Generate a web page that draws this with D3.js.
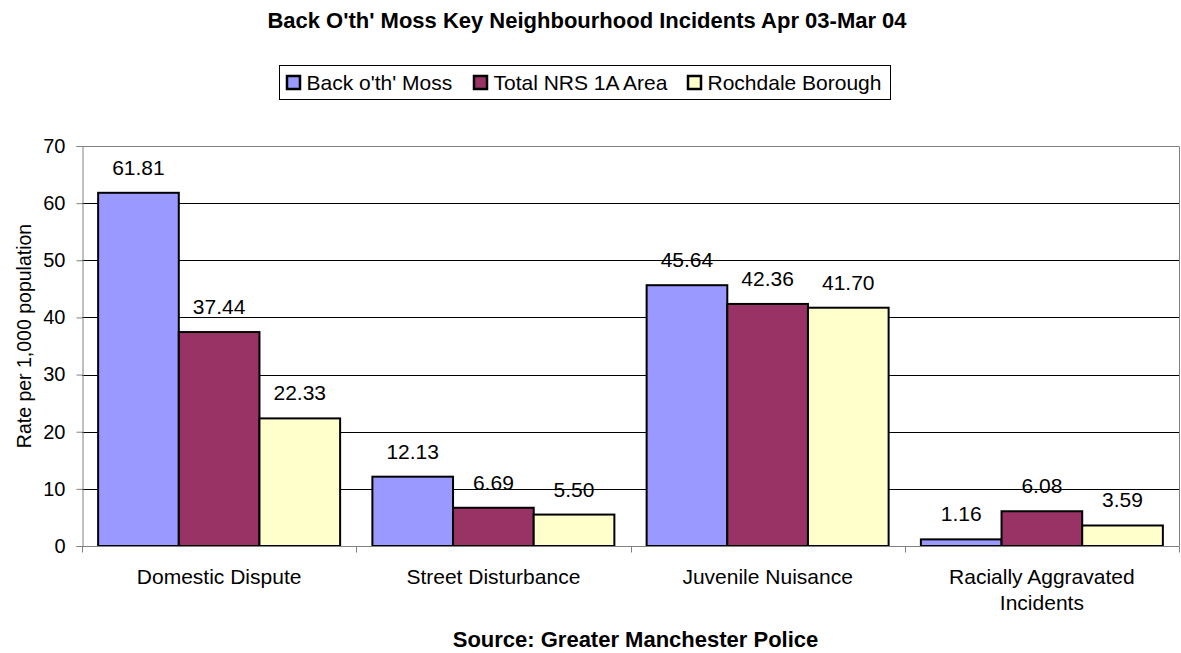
<!DOCTYPE html>
<html><head><meta charset="utf-8">
<script src="https://cdn.jsdelivr.net/npm/d3@7"></script>
<style>
html,body{margin:0;padding:0;background:#fff;}
svg{display:block;font-family:"Liberation Sans",Arial,sans-serif;}
</style></head>
<body><svg id="c" width="1181" height="653"></svg>
<script>
const categories = [["Domestic Dispute"],["Street Disturbance"],["Juvenile Nuisance"],["Racially Aggravated","Incidents"]];
const seriesNames = ["Back o'th' Moss","Total NRS 1A Area","Rochdale Borough"];
const backOthMoss = [61.81, 12.13, 45.64, 1.16];
const totalNRS1A = [37.44, 6.69, 42.36, 6.08];
const rochdaleBorough = [22.33, 5.50, 41.70, 3.59];
const yTicks = [0,10,20,30,40,50,60,70];
const colors = ["#9999FF","#993366","#FFFFCC"];

const seriesValues = [backOthMoss, totalNRS1A, rochdaleBorough];
const svg = d3.select("#c");
const L = 82, R = 1179, T = 146, B = 546;
const FS = 21;

const x0 = d3.scaleBand().domain(d3.range(categories.length)).range([L, R]).padding(0);
const x1 = d3.scaleBand().domain(d3.range(seriesNames.length)).range([0, x0.bandwidth()]).paddingInner(0).paddingOuter(0.2);
const y = d3.scaleLinear().domain([0,70]).range([B, T]);

// gridlines
svg.append("g").selectAll("line").data(yTicks.filter(d=>d>0 && d<70)).join("line")
  .attr("x1", L).attr("x2", R).attr("y1", d=>Math.round(y(d))+0.5).attr("y2", d=>Math.round(y(d))+0.5)
  .attr("stroke","#000").attr("stroke-width",1);
// frame top/right
svg.append("path").attr("d",`M${L},${T+0.5}H${R+0.5}V${B}`).attr("fill","none").attr("stroke","#808080").attr("stroke-width",1);

// y axis
const ya = svg.append("g").attr("transform",`translate(${L+0.5},0)`)
  .call(d3.axisLeft(y).tickValues(yTicks).tickSize(6).tickPadding(11).tickFormat(d3.format("d")));
ya.select(".domain").attr("stroke","#808080");
ya.selectAll(".tick line").attr("stroke","#808080");
ya.selectAll("text").attr("font-size",20).attr("font-family","Liberation Sans, Arial, sans-serif").attr("fill","#000");

// bars
const g = svg.append("g");
categories.forEach((c,ci)=>{
  seriesValues.forEach((vals,si)=>{
    const v = vals[ci];
    const bx = x0(ci) + x1(si);
    g.append("rect").attr("x", bx).attr("y", y(v)).attr("width", x1.bandwidth()).attr("height", y(0)-y(v))
      .attr("fill", colors[si]).attr("stroke","#000").attr("stroke-width",2);
    g.append("text").attr("x", bx + x1.bandwidth()/2).attr("y", y(v)-18).attr("text-anchor","middle")
      .attr("font-size",FS).text(v.toFixed(2));
  });
});

// x axis
const xa = svg.append("g").attr("transform",`translate(0,${B+0.5})`);
xa.append("line").attr("x1",L).attr("x2",R+0.5).attr("stroke","#808080");
xa.selectAll("line.t").data(d3.range(categories.length+1)).join("line").attr("class","t")
  .attr("x1",i=>Math.round(L + i*x0.step())+0.5).attr("x2",i=>Math.round(L + i*x0.step())+0.5).attr("y1",0).attr("y2",6).attr("stroke","#808080");
categories.forEach((lines,ci)=>{
  const t = svg.append("text").attr("text-anchor","middle").attr("font-size",FS);
  lines.forEach((ln,li)=>{
    t.append("tspan").attr("x", x0(ci)+x0.bandwidth()/2).attr("y", 584 + li*26).text(ln);
  });
});

// y label
svg.append("text").attr("transform",`translate(31,336) rotate(-90)`).attr("text-anchor","middle")
  .attr("font-size",19.5).text("Rate per 1,000 population");

// title
svg.append("text").attr("x",587).attr("y",28).attr("text-anchor","middle").attr("font-weight","bold")
  .attr("font-size",22).text("Back O'th' Moss Key Neighbourhood Incidents Apr 03-Mar 04");
// source
svg.append("text").attr("x",635.5).attr("y",647).attr("text-anchor","middle").attr("font-weight","bold")
  .attr("font-size",22).text("Source: Greater Manchester Police");

// legend
const lg = svg.append("g");
lg.append("rect").attr("x",279.5).attr("y",65.5).attr("width",611).attr("height",34).attr("fill","#fff").attr("stroke","#000");
const legX = [287, 474, 688];
seriesNames.forEach((n,i)=>{
  lg.append("rect").attr("x",legX[i]).attr("y",76).attr("width",13).attr("height",13).attr("fill",colors[i]).attr("stroke","#000").attr("stroke-width",2.5);
  lg.append("text").attr("x",legX[i]+19.5).attr("y",89.5).attr("font-size",FS).text(n);
});
</script></body></html>
